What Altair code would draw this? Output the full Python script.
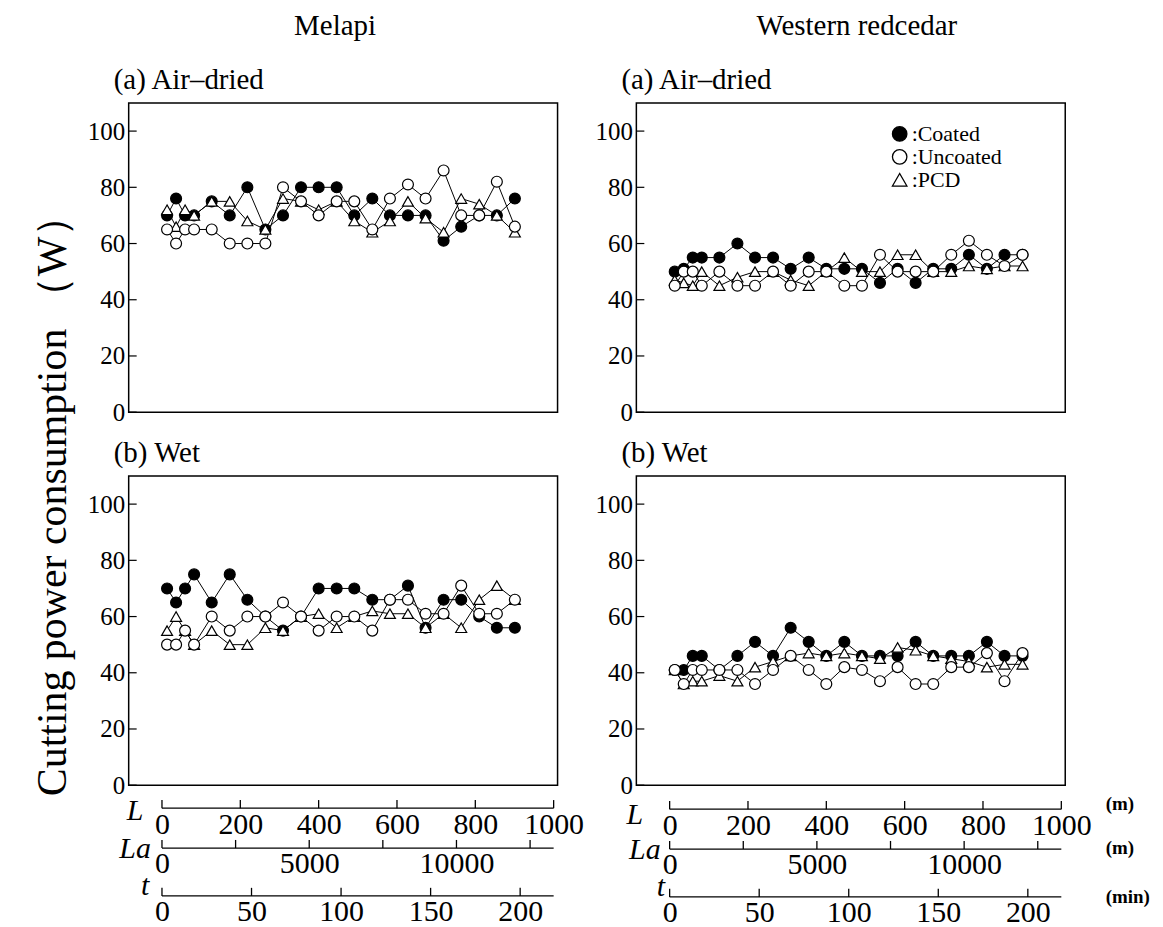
import altair as alt
import pandas as pd

FONT = "Liberation Serif"

# Cutting length L (m) of each measurement
L_POS = [13, 36, 59, 82, 127, 173, 218, 264, 309, 355, 400, 446, 491, 537, 582, 628, 673, 719, 764, 810, 855, 901]

SERIES = ["Coated", "Uncoated", "PCD"]

# Melapi, air-dried
mel_air_coated = [70, 76, 70, 70, 75, 70, 80, 65, 70, 80, 80, 80, 70, 76, 70, 70, 70, 61, 66, 70, 70, 76]
mel_air_uncoated = [65, 60, 65, 65, 65, 60, 60, 60, 80, 75, 70, 75, 75, 65, 76, 81, 76, 86, 70, 70, 82, 66]
mel_air_pcd = [72, 66, 72, 70, 75, 75, 68, 65, 76, 75, 72, 75, 68, 64, 68, 75, 69, 64, 76, 74, 70, 64]

# Western redcedar, air-dried
wrc_air_coated = [50, 51, 55, 55, 55, 60, 55, 55, 51, 55, 51, 51, 51, 46, 51, 46, 51, 51, 56, 51, 56, 56]
wrc_air_uncoated = [45, 50, 50, 45, 50, 45, 45, 50, 45, 50, 50, 45, 45, 56, 50, 50, 50, 56, 61, 56, 52, 56]
wrc_air_pcd = [47, 46, 45, 50, 45, 48, 50, 50, 47, 45, 50, 55, 50, 50, 56, 56, 50, 50, 52, 51, 52, 52]

# Melapi, wet
mel_wet_coated = [70, 65, 70, 75, 65, 75, 66, 60, 55, 60, 70, 70, 70, 66, 66, 71, 56, 66, 66, 60, 56, 56]
mel_wet_uncoated = [50, 50, 55, 50, 60, 55, 60, 60, 65, 60, 55, 60, 60, 55, 66, 66, 61, 61, 71, 61, 61, 66]
mel_wet_pcd = [55, 60, 55, 50, 55, 50, 50, 56, 55, 60, 61, 56, 60, 62, 61, 61, 56, 61, 56, 66, 71, 66]

# Western redcedar, wet
wrc_wet_coated = [41, 41, 46, 46, 41, 46, 51, 46, 56, 51, 46, 51, 46, 46, 46, 51, 46, 46, 46, 51, 46, 46]
wrc_wet_uncoated = [41, 36, 41, 41, 41, 41, 36, 41, 46, 41, 36, 42, 41, 37, 42, 36, 36, 42, 42, 47, 37, 47]
wrc_wet_pcd = [41, 36, 37, 37, 39, 37, 42, 44, 46, 47, 46, 47, 46, 45, 49, 48, 46, 45, 44, 42, 43, 43]

Y_TICKS = [0, 20, 40, 60, 80, 100]
L_TICKS = [0, 200, 400, 600, 800, 1000]
LA_TICKS = [0, 2500, 5000, 7500, 10000, 12500]
LA_LABELS = [0, 5000, 10000]
T_TICKS = [0, 50, 100, 150, 200]

LA_PER_L = 13.3      # La (m) per L (m)
T_PER_L = 0.2187     # t (min) per L (m)

X_DOM = [-85, 1010]
Y_DOM = [0, 110]
W, H = 430, 310
AX_H = 9


def panel_df(coated, uncoated, pcd):
    rows = []
    for name, vals in (("Coated", coated), ("PCD", pcd), ("Uncoated", uncoated)):
        for L, v in zip(L_POS, vals):
            rows.append({"L": L, "W": v, "series": name})
    return pd.DataFrame(rows)


def panel(df, title, legend=False):
    xs = alt.Scale(domain=X_DOM, nice=False, zero=False)
    ys = alt.Scale(domain=Y_DOM, nice=False, zero=False)
    yaxis = alt.Axis(values=Y_TICKS, ticks=False, domain=False, grid=False,
                     labelFont=FONT, labelFontSize=25, labelPadding=4,
                     labelColor="black", title=None)
    tick_df = pd.DataFrame({"W": Y_TICKS})
    ticks = alt.Chart(tick_df).mark_rule(color="black", strokeWidth=1.2).encode(
        y=alt.Y("W:Q", scale=ys, axis=yaxis),
        x=alt.value(0), x2=alt.value(8))
    lines = alt.Chart(df).mark_line(color="black", strokeWidth=1).encode(
        x=alt.X("L:Q", scale=xs, axis=None),
        y=alt.Y("W:Q", scale=ys, axis=yaxis),
        detail="series:N")
    if legend:
        leg = alt.Legend(title=None, orient="none", legendX=253, legendY=20,
                         labelFont=FONT, labelFontSize=22, labelColor="black",
                         labelExpr="':' + datum.label", symbolSize=210,
                         symbolStrokeColor="black", symbolStrokeWidth=1.3,
                         labelOffset=1, rowPadding=1, padding=0)
    else:
        leg = None
    pts = alt.Chart(df).mark_point(filled=True, size=120, stroke="black",
                                   strokeWidth=1.2, opacity=1).encode(
        x=alt.X("L:Q", scale=xs, axis=None),
        y=alt.Y("W:Q", scale=ys, axis=yaxis),
        shape=alt.Shape("series:N", scale=alt.Scale(domain=SERIES, range=["circle", "circle", "triangle-up"]), legend=leg),
        fill=alt.Fill("series:N", scale=alt.Scale(domain=SERIES, range=["black", "white", "white"]), legend=leg),
        stroke=alt.Stroke("series:N", scale=alt.Scale(domain=SERIES, range=["black", "black", "black"]), legend=leg),
    )
    return alt.layer(ticks, lines, pts).properties(
        width=W, height=H,
        title=alt.TitleParams(title, anchor="start", frame="group", dx=-15, offset=8,
                              font=FONT, fontSize=29, fontWeight="normal", color="black"))


def scale_axis(factor, tick_vals, label_vals, name, name_x, name_y, unit=None, unit_y=-2):
    dom = [X_DOM[0] * factor, X_DOM[1] * factor]
    end = 1000 * factor
    xs = alt.Scale(domain=dom, nice=False, zero=False)
    ys = alt.Scale(domain=[0, 1], nice=False, zero=False)
    xkw = dict(values=label_vals, ticks=False, domain=False, grid=False,
               labelFont=FONT, labelFontSize=30, labelColor="black", labelPadding=1,
               labelFlush=False, labelOverlap=False, format="d")
    if unit:
        xkw.update(title=unit, titleX=470, titleY=unit_y, titleAlign="left",
                   titleBaseline="middle", titleFont=FONT, titleFontSize=19,
                   titleFontWeight="bold", titleColor="black")
    else:
        xkw.update(title=None)
    xaxis = alt.Axis(**xkw)
    yaxis = alt.Axis(title=name, labels=False, ticks=False, domain=False, grid=False,
                     titleAngle=0, titleX=name_x, titleY=name_y, titleAlign="center",
                     titleBaseline="middle", titleFont=FONT, titleFontSize=30,
                     titleFontStyle="italic", titleFontWeight="normal", titleColor="black")
    line_df = pd.DataFrame({"a": [0.0], "b": [end], "y": [0.0]})
    line = alt.Chart(line_df).mark_rule(color="black", strokeWidth=1.3).encode(
        x=alt.X("a:Q", scale=xs, axis=xaxis), x2="b:Q",
        y=alt.Y("y:Q", scale=ys, axis=yaxis))
    tick_df = pd.DataFrame({"a": tick_vals, "y": [0.0] * len(tick_vals), "y1": [0.9] * len(tick_vals)})
    ticks = alt.Chart(tick_df).mark_rule(color="black", strokeWidth=1.3).encode(
        x=alt.X("a:Q", scale=xs, axis=xaxis),
        y=alt.Y("y:Q", scale=ys, axis=yaxis), y2="y1:Q")
    return alt.layer(line, ticks).properties(width=W, height=AX_H,
                                             view=alt.ViewBackground(stroke=None))


def resolved(ch):
    return ch.resolve_scale(x="independent", y="independent", shape="independent",
                            fill="independent", stroke="independent").resolve_axis(
        x="independent", y="independent").resolve_legend(
        shape="independent", fill="independent", stroke="independent")


def column(title, dfa, dfb, legend, names_x, l_dy, units, title_dx):
    a = panel(dfa, "(a) Air–dried", legend=legend)
    b = panel(dfb, "(b) Wet")
    top = resolved(alt.vconcat(a, b, spacing=12))
    axl = scale_axis(1.0, L_TICKS, L_TICKS, "L", names_x[0], AX_H + l_dy, units[0], -6)
    axla = scale_axis(LA_PER_L, LA_TICKS, LA_LABELS, "La", names_x[1], AX_H, units[1], -2)
    axt = scale_axis(T_PER_L, T_TICKS, T_TICKS, "t", names_x[2], AX_H - 10, units[2], 0)
    axes = resolved(alt.vconcat(axl, axla, axt, spacing=-8))
    return resolved(alt.vconcat(top, axes, spacing=-5,
                                title=alt.TitleParams(title, anchor="middle", dx=title_dx, offset=24,
                                                      font=FONT, fontSize=29, fontWeight="normal",
                                                      color="black")))


left_col = column("Melapi",
                  panel_df(mel_air_coated, mel_air_uncoated, mel_air_pcd),
                  panel_df(mel_wet_coated, mel_wet_uncoated, mel_wet_pcd),
                  False, (6, 6, 16), 2, (None, None, None), 0)
right_col = column("Western redcedar",
                   panel_df(wrc_air_coated, wrc_air_uncoated, wrc_air_pcd),
                   panel_df(wrc_wet_coated, wrc_wet_uncoated, wrc_wet_pcd),
                   True, (-2, 8, 24), 5, ("(m)", "(m)", "(min)"), -15)

ytitle = alt.Chart(pd.DataFrame({"v": [0]})).mark_point(opacity=0).encode(
    y=alt.Y("v:Q", axis=alt.Axis(title="Cutting power consumption （W）", labels=False,
                                 ticks=False, domain=False, grid=False,
                                 titleFont=FONT, titleFontSize=42, titleFontWeight="normal",
                                 titleColor="black", titleX=-20, titleY=393,
                                 titleAlign="center", titleBaseline="middle"))
).properties(width=1, height=850, view=alt.ViewBackground(stroke=None))

chart = resolved(alt.hconcat(ytitle, left_col, right_col, spacing=9)).properties(
    padding={"left": 24, "top": 3, "right": 5, "bottom": 0}
).configure_view(stroke="black", strokeWidth=1.5)

chart.save("out.html", embed_options={"renderer": "svg", "actions": False})
